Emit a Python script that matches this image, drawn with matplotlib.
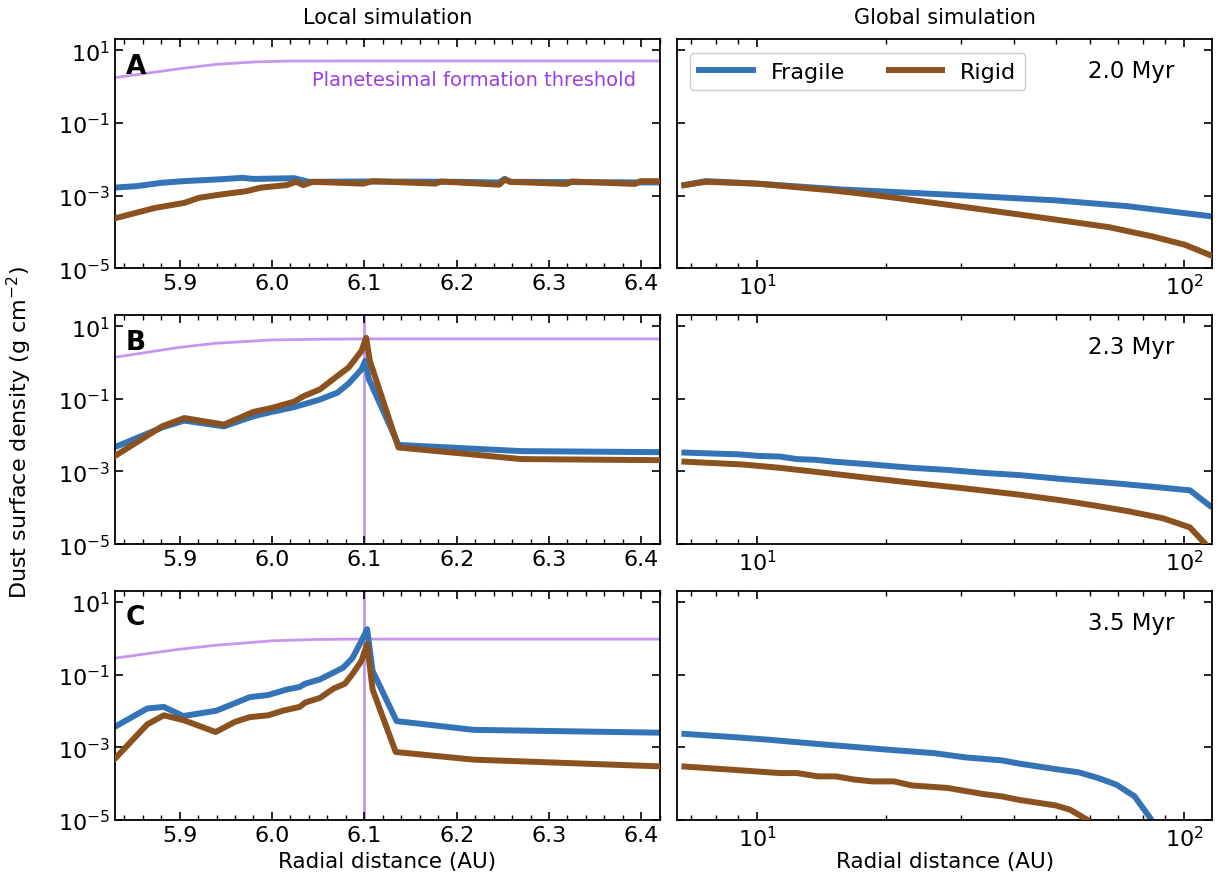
import matplotlib
matplotlib.use('Agg')
import matplotlib.pyplot as plt
from matplotlib.ticker import MultipleLocator, NullLocator

BLUE = '#3474b6'
BROWN = '#8b521f'
PURPLE_LINE = '#c496f0'
PURPLE_TEXT = '#9a3fe0'

panel_letters = ['A', 'B', 'C']
times = ['2.0 Myr', '2.3 Myr', '3.5 Myr']

# ---- local simulation (linear x in AU) ----
thr_x = [[5.829, 5.861, 5.900, 5.940, 5.980, 6.020, 6.10, 6.42],
         [5.829, 5.900, 5.940, 6.000, 6.050, 6.10, 6.42],
         [5.829, 5.900, 5.940, 6.000, 6.050, 6.10, 6.42]]
thr_y = [[1.76, 2.27, 3.12, 4.11, 4.78, 5.08, 5.1, 5.1],
         [1.38, 2.61, 3.39, 4.17, 4.37, 4.45, 4.45],
         [0.282, 0.50, 0.646, 0.851, 0.933, 0.95, 0.95]]

locA_frag_x = [5.829, 5.853, 5.881, 5.905, 5.944, 5.968, 5.980, 6.024, 6.040,
               6.10, 6.20, 6.246, 6.252, 6.258, 6.42]
locA_frag_y = [1.66e-3, 1.82e-3, 2.26e-3, 2.51e-3, 2.82e-3, 3.09e-3, 2.88e-3, 3.02e-3, 2.40e-3,
               2.45e-3, 2.40e-3, 2.3e-3, 2.9e-3, 2.4e-3, 2.30e-3]
locA_rig_x = [5.829, 5.873, 5.905, 5.921, 5.944, 5.972, 5.988, 6.016, 6.026, 6.034, 6.044,
              6.099, 6.109, 6.177, 6.183, 6.246, 6.252, 6.258, 6.319, 6.325, 6.393, 6.399, 6.425]
locA_rig_y = [2.34e-4, 4.57e-4, 6.31e-4, 8.71e-4, 1.07e-3, 1.32e-3, 1.66e-3, 1.95e-3, 2.40e-3, 1.95e-3, 2.40e-3,
              2.14e-3, 2.5e-3, 2.14e-3, 2.45e-3, 2.0e-3, 2.75e-3, 2.4e-3, 2.1e-3, 2.45e-3, 2.1e-3, 2.5e-3, 2.5e-3]

locB_frag_x = [5.829, 5.881, 5.905, 5.948, 5.980, 6.000, 6.024, 6.040, 6.052, 6.071, 6.083,
               6.097, 6.101, 6.105, 6.137, 6.270, 6.425]
locB_frag_y = [4.57e-3, 1.62e-2, 2.51e-2, 1.74e-2, 3.31e-2, 4.37e-2, 5.89e-2, 7.76e-2, 9.55e-2, 0.148, 0.263,
               0.646, 1.11, 0.347, 5.37e-3, 3.63e-3, 3.39e-3]
locB_rig_x = [5.829, 5.881, 5.905, 5.948, 5.980, 6.000, 6.024, 6.034, 6.052, 6.071, 6.083,
              6.097, 6.102, 6.106, 6.137, 6.270, 6.425]
locB_rig_y = [2.57e-3, 1.74e-2, 2.95e-2, 1.95e-2, 4.37e-2, 5.62e-2, 8.32e-2, 0.117, 0.182, 0.427, 0.724,
              2.09, 4.79, 1.11, 4.57e-3, 2.19e-3, 2.04e-3]

locC_frag_x = [5.829, 5.865, 5.883, 5.904, 5.940, 5.976, 5.996, 6.016, 6.030, 6.036, 6.052,
               6.067, 6.077, 6.087, 6.097, 6.103, 6.109, 6.135, 6.218, 6.425]
locC_frag_y = [3.55e-3, 1.17e-2, 1.29e-2, 7.24e-3, 1.02e-2, 2.40e-2, 2.75e-2, 3.89e-2, 4.57e-2, 5.62e-2, 7.41e-2,
               0.115, 0.155, 0.282, 0.851, 1.78, 0.126, 5.25e-3, 3.02e-3, 2.51e-3]
locC_rig_x = [5.829, 5.865, 5.883, 5.905, 5.939, 5.960, 5.976, 5.996, 6.012, 6.030, 6.036,
              6.052, 6.067, 6.079, 6.087, 6.097, 6.103, 6.109, 6.134, 6.218, 6.425]
locC_rig_y = [4.57e-4, 4.27e-3, 7.59e-3, 5.50e-3, 2.63e-3, 5.01e-3, 6.76e-3, 7.59e-3, 1.02e-2, 1.29e-2, 1.70e-2,
              2.29e-2, 4.17e-2, 5.62e-2, 0.102, 0.240, 0.692, 3.89e-2, 7.41e-4, 4.57e-4, 2.95e-4]

# ---- global simulation (log x in AU) ----
gloA_frag_x = [6.76, 7.59, 10.0, 15.7, 27.9, 49.9, 73.5, 115.6]
gloA_frag_y = [1.95e-3, 2.51e-3, 2.14e-3, 1.48e-3, 1.07e-3, 7.41e-4, 5.13e-4, 2.69e-4]
gloA_rig_x = [6.76, 7.59, 10.0, 15.1, 19.0, 27.9, 41.1, 49.9, 66.7, 83.9, 100.0, 115.6]
gloA_rig_y = [1.95e-3, 2.40e-3, 2.14e-3, 1.38e-3, 1.02e-3, 5.62e-4, 3.02e-4, 2.19e-4, 1.35e-4, 7.59e-5, 4.47e-5, 2.24e-5]

gloB_frag_x = [6.76, 9.12, 10.0, 11.3, 12.4, 13.7, 15.1, 18.6, 23.0, 27.9, 33.9, 41.1, 51.9, 69.3, 85.7, 103.0, 114.5]
gloB_frag_y = [3.31e-3, 2.95e-3, 2.69e-3, 2.57e-3, 2.19e-3, 2.09e-3, 1.86e-3, 1.55e-3, 1.26e-3, 1.10e-3,
               9.12e-4, 7.94e-4, 6.17e-4, 4.68e-4, 3.72e-4, 3.02e-4, 1.15e-4]
gloB_rig_x = [6.76, 9.29, 11.3, 13.7, 18.6, 23.0, 30.8, 41.1, 51.9, 61.7, 73.5, 89.1, 103.0, 113.0]
gloB_rig_y = [1.86e-3, 1.55e-3, 1.26e-3, 9.77e-4, 6.46e-4, 4.90e-4, 3.39e-4, 2.29e-4, 1.58e-4, 1.15e-4,
              8.13e-5, 5.13e-5, 2.88e-5, 8.9e-6]

gloC_frag_x = [6.76, 8.77, 10.6, 13.9, 16.9, 20.9, 25.9, 30.8, 37.3, 41.1, 49.9, 56.6, 63.0, 69.3, 76.4, 83.2, 85.7]
gloC_frag_y = [2.34e-3, 1.91e-3, 1.62e-3, 1.23e-3, 1.02e-3, 8.32e-4, 6.92e-4, 5.25e-4, 4.37e-4, 3.55e-4,
               2.51e-4, 2.04e-4, 1.41e-4, 9.33e-5, 4.47e-5, 1.12e-5, 5.9e-6]
gloC_rig_x = [6.76, 8.77, 11.3, 12.4, 13.9, 15.3, 16.9, 18.6, 20.9, 23.0, 27.9, 33.9, 37.3, 41.1, 49.9, 54.0, 59.3, 60.5]
gloC_rig_y = [2.95e-4, 2.40e-4, 1.95e-4, 1.95e-4, 1.58e-4, 1.58e-4, 1.29e-4, 1.15e-4, 1.15e-4, 8.91e-5,
              7.59e-5, 5.13e-5, 4.47e-5, 3.55e-5, 2.51e-5, 1.91e-5, 1.0e-5, 7.2e-6]

local_frag = [(locA_frag_x, locA_frag_y), (locB_frag_x, locB_frag_y), (locC_frag_x, locC_frag_y)]
local_rig = [(locA_rig_x, locA_rig_y), (locB_rig_x, locB_rig_y), (locC_rig_x, locC_rig_y)]
global_frag = [(gloA_frag_x, gloA_frag_y), (gloB_frag_x, gloB_frag_y), (gloC_frag_x, gloC_frag_y)]
global_rig = [(gloA_rig_x, gloA_rig_y), (gloB_rig_x, gloB_rig_y), (gloC_rig_x, gloC_rig_y)]

plt.rcParams['font.family'] = 'DejaVu Sans'
fig, axes = plt.subplots(3, 2, figsize=(12.28, 8.78), dpi=100, sharey=True,
                         gridspec_kw={'width_ratios': [545, 535]})
fig.subplots_adjust(left=0.0936, right=0.987, top=0.954, bottom=0.065, wspace=0.032, hspace=0.205)

LW = 4.3
for i in range(3):
    axl, axr = axes[i]
    axl.plot(thr_x[i], thr_y[i], color=PURPLE_LINE, lw=2.0, zorder=1)
    if i > 0:
        axl.axvline(6.1, color=PURPLE_LINE, lw=2.0, zorder=1)
    axl.plot(*local_frag[i], color=BLUE, lw=LW, zorder=2)
    axl.plot(*local_rig[i], color=BROWN, lw=LW, zorder=3)
    axl.set_xlim(5.83, 6.42)
    axl.xaxis.set_major_locator(MultipleLocator(0.1))
    axl.xaxis.set_minor_locator(MultipleLocator(0.02))
    axl.text(0.02, 0.885, panel_letters[i], transform=axl.transAxes, fontsize=19,
             fontweight='bold', ha='left', va='center')

    axr.plot(*global_frag[i], color=BLUE, lw=LW, label='Fragile', zorder=2)
    axr.plot(*global_rig[i], color=BROWN, lw=LW, label='Rigid', zorder=3)
    axr.set_xscale('log')
    axr.set_xlim(6.5, 116)
    axr.text(0.849, 0.862, times[i], transform=axr.transAxes, fontsize=16.5,
             ha='center', va='center')

    for ax in (axl, axr):
        ax.set_yscale('log')
        ax.set_ylim(1e-5, 20)
        ax.set_yticks([1e-5, 1e-3, 1e-1, 1e1])
        ax.yaxis.set_minor_locator(NullLocator())
        ax.tick_params(which='both', direction='in', top=True, right=True, labelsize=16)
        ax.tick_params(which='major', length=5.5, width=1.2)
        ax.tick_params(which='minor', length=3.5, width=1.0)
        for s in ax.spines.values():
            s.set_linewidth(1.3)

axes[0, 0].text(0.956, 0.823, 'Planetesimal formation threshold', transform=axes[0, 0].transAxes,
                color=PURPLE_TEXT, fontsize=14, ha='right', va='center')
axes[0, 1].legend(loc='upper left', ncol=2, fontsize=16, handlelength=2.4, handletextpad=0.8,
                  columnspacing=2.0, borderaxespad=0.6, framealpha=1)
axes[0, 0].set_title('Local simulation', fontsize=15, pad=12)
axes[0, 1].set_title('Global simulation', fontsize=15, pad=12)
axes[2, 0].set_xlabel('Radial distance (AU)', fontsize=15.5, labelpad=1)
axes[2, 1].set_xlabel('Radial distance (AU)', fontsize=15.5, labelpad=1)
fig.align_xlabels(axes[2, :])
fig.text(0.016, 0.507, 'Dust surface density (g cm$^{-2}$)', rotation=90, fontsize=16,
         ha='center', va='center')

fig.savefig('out.png', dpi=100)
